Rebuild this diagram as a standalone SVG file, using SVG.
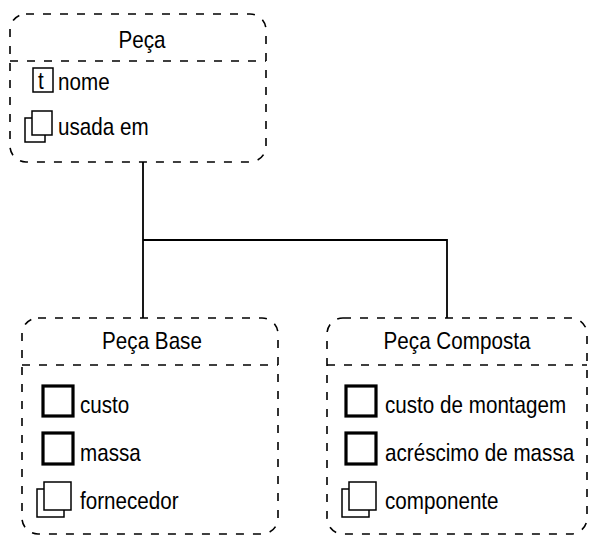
<svg xmlns="http://www.w3.org/2000/svg" width="594" height="539" viewBox="0 0 594 539">
<style>
.frame{fill:none;stroke:#000;stroke-width:1.6;stroke-dasharray:8 9}
.div{fill:none;stroke:#000;stroke-width:1.6;stroke-dasharray:8 9}
.t{font-family:"Liberation Sans",Arial,sans-serif;font-size:24px;fill:#000}
.title{text-anchor:middle}
.thin{fill:#fff;stroke:#000;stroke-width:1.5}
.thick{fill:#fff;stroke:#000;stroke-width:3.2}
.conn{fill:none;stroke:#000;stroke-width:1.8}
</style>
<defs>
<g id="stack">
<rect class="thin" x="0" y="7" width="20" height="24"/>
<rect class="thin" x="7" y="0" width="20" height="24"/>
</g>
<g id="stackL">
<rect class="thin" x="0" y="7" width="27" height="28"/>
<rect class="thin" x="7" y="0" width="27" height="28"/>
</g>
</defs>
<g id="connectors">
<path class="conn" d="M143 162 V318 M143 240 H447 V318"/>
</g>
<g id="peca">
<rect class="frame" x="10" y="14" width="256" height="148" rx="16"/>
<line class="div" x1="10" y1="61" x2="266" y2="61"/>
<text class="t title" transform="translate(142,48) scale(0.86,1)">Peça</text>
<rect class="thin" x="33" y="68" width="20" height="24"/>
<text class="t" transform="translate(38,89) scale(0.86,1)">t</text>
<text class="t" transform="translate(58,90) scale(0.86,1)">nome</text>
<use href="#stack" x="25" y="111"/>
<text class="t" transform="translate(58,135) scale(0.86,1)">usada em</text>
</g>
<g id="peca-base">
<rect class="frame" x="22" y="318" width="256" height="216" rx="16"/>
<line class="div" x1="22" y1="365" x2="278" y2="365"/>
<text class="t title" transform="translate(152,349) scale(0.86,1)">Peça Base</text>
<rect class="thick" x="43" y="386" width="30" height="30"/>
<text class="t" transform="translate(80,413) scale(0.86,1)">custo</text>
<rect class="thick" x="43" y="433" width="30" height="31"/>
<text class="t" transform="translate(80,461) scale(0.86,1)">massa</text>
<use href="#stackL" x="37" y="482"/>
<text class="t" transform="translate(80,509) scale(0.86,1)">fornecedor</text>
</g>
<g id="peca-composta">
<rect class="frame" x="327" y="318" width="260" height="216" rx="16"/>
<line class="div" x1="327" y1="365" x2="587" y2="365"/>
<text class="t title" transform="translate(457,349) scale(0.86,1)">Peça Composta</text>
<rect class="thick" x="346" y="386" width="30" height="30"/>
<text class="t" transform="translate(385,413) scale(0.86,1)">custo de montagem</text>
<rect class="thick" x="346" y="433" width="30" height="31"/>
<text class="t" transform="translate(385,461) scale(0.86,1)">acréscimo de massa</text>
<use href="#stackL" x="342" y="482"/>
<text class="t" transform="translate(385,509) scale(0.86,1)">componente</text>
</g>
</svg>
